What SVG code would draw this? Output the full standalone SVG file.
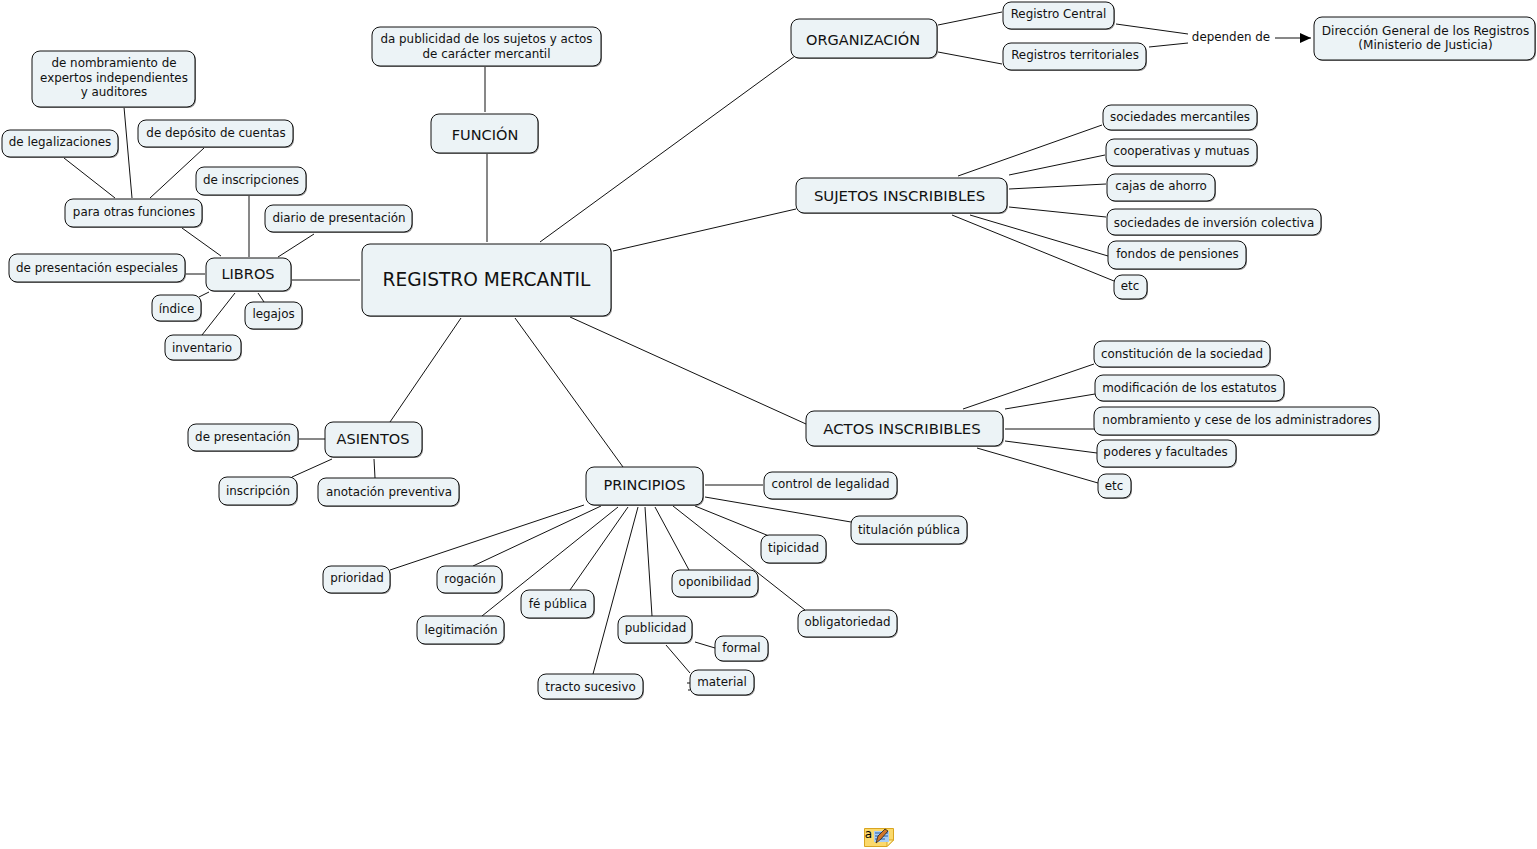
<svg xmlns="http://www.w3.org/2000/svg" width="1537" height="849" viewBox="0 0 1537 849">
<style>
text{font-family:"DejaVu Sans",Verdana,sans-serif;font-size:11.9px;fill:#111;text-anchor:middle}
.m text{font-size:14.5px}
.w text{font-size:14.9px}
.b text{font-size:12.1px}
.r{fill:#ecf3f6;stroke:#111;stroke-width:1;rx:8px}
.s{fill:#8a8a8a;rx:8px}
#links line{stroke:#111;stroke-width:1;fill:none}
</style>
<defs>
<marker id="arrow" markerWidth="12" markerHeight="10" refX="11" refY="5" orient="auto" markerUnits="userSpaceOnUse"><path d="M0 0L11 5L0 10z" fill="#000"/></marker>
</defs>
<rect width="1537" height="849" fill="#fff"/>
<g id="links">
<line x1="487" y1="153" x2="487" y2="242"/>
<line x1="485" y1="66" x2="485" y2="112"/>
<line x1="540" y1="242" x2="795" y2="56"/>
<line x1="938" y1="25" x2="1002" y2="12"/>
<line x1="938" y1="52" x2="1002" y2="64"/>
<line x1="1116" y1="24" x2="1188" y2="34"/>
<line x1="1149" y1="47" x2="1188" y2="43"/>
<line x1="1275" y1="38" x2="1311" y2="38" marker-end="url(#arrow)"/>
<line x1="613" y1="251" x2="796" y2="209"/>
<line x1="958" y1="176" x2="1102" y2="125"/>
<line x1="1009" y1="175" x2="1105" y2="155"/>
<line x1="1009" y1="189" x2="1106" y2="184"/>
<line x1="1009" y1="207" x2="1106" y2="217"/>
<line x1="970" y1="215" x2="1108" y2="256"/>
<line x1="952" y1="215" x2="1114" y2="281"/>
<line x1="570" y1="317" x2="806" y2="424"/>
<line x1="963" y1="409" x2="1094" y2="364"/>
<line x1="1005" y1="409" x2="1095" y2="394"/>
<line x1="1005" y1="429" x2="1094" y2="429"/>
<line x1="1005" y1="441" x2="1097" y2="453"/>
<line x1="977" y1="448" x2="1098" y2="483"/>
<line x1="515" y1="318" x2="623" y2="467"/>
<line x1="705" y1="485" x2="763" y2="485"/>
<line x1="705" y1="497" x2="851" y2="522"/>
<line x1="695" y1="506" x2="769" y2="536"/>
<line x1="655" y1="507" x2="689" y2="570"/>
<line x1="673" y1="506" x2="805" y2="610"/>
<line x1="645" y1="507" x2="652" y2="616"/>
<line x1="695" y1="642" x2="715" y2="648"/>
<line x1="666" y1="645" x2="690" y2="673"/>
<line x1="638" y1="507" x2="593" y2="674"/>
<line x1="628" y1="507" x2="570" y2="590"/>
<line x1="618" y1="507" x2="482" y2="616"/>
<line x1="601" y1="506" x2="473" y2="566"/>
<line x1="584" y1="505" x2="390" y2="570"/>
<line x1="461" y1="318" x2="390" y2="422"/>
<line x1="298" y1="439" x2="325" y2="439"/>
<line x1="332" y1="459" x2="292" y2="477"/>
<line x1="374" y1="459" x2="375" y2="478"/>
<line x1="292" y1="280" x2="360" y2="280"/>
<line x1="278" y1="257" x2="314" y2="234"/>
<line x1="249" y1="195" x2="249" y2="257"/>
<line x1="182" y1="228" x2="221" y2="256"/>
<line x1="150" y1="198" x2="204" y2="148"/>
<line x1="115" y1="198" x2="64" y2="158"/>
<line x1="132" y1="198" x2="124" y2="107"/>
<line x1="185" y1="274" x2="205" y2="274"/>
<line x1="199" y1="297" x2="209" y2="292"/>
<line x1="202" y1="335" x2="235" y2="293"/>
<line x1="258" y1="293" x2="264" y2="302"/>
<line x1="687" y1="683" x2="690" y2="683"/>
<line x1="688" y1="690" x2="690" y2="690"/>
</g>
<g id="n1" class="m"><rect class="s" x="363" y="245" width="249" height="72"/><rect class="r" x="362" y="244" width="249" height="72"/><text x="486.500" y="286" style="font-size:18.600px">REGISTRO MERCANTIL</text></g>
<g id="n2" class="m"><rect class="s" x="432" y="115" width="107" height="39"/><rect class="r" x="431" y="114" width="107" height="39"/><text x="485" y="140">FUNCIÓN</text></g>
<g id="n3"><rect class="s" x="373" y="28" width="229" height="39"/><rect class="r" x="372" y="27" width="229" height="39"/><text x="486.500" y="43">da publicidad de los sujetos y actos</text><text x="486.500" y="58">de carácter mercantil</text></g>
<g id="n4" class="m"><rect class="s" x="792" y="20" width="146" height="39"/><rect class="r" x="791" y="19" width="146" height="39"/><text x="863" y="45">ORGANIZACIÓN</text></g>
<g id="n5"><rect class="s" x="1004" y="3" width="111" height="27"/><rect class="r" x="1003" y="2" width="111" height="27"/><text x="1058.500" y="18">Registro Central</text></g>
<g id="n6"><rect class="s" x="1004" y="44" width="143" height="27"/><rect class="r" x="1003" y="43" width="143" height="27"/><text x="1075" y="59">Registros territoriales</text></g>
<g id="n7"><text x="1231" y="41">dependen de</text></g>
<g id="n8" class="b"><rect class="s" x="1315" y="18" width="221" height="43"/><rect class="r" x="1314" y="17" width="221" height="43"/><text x="1425.500" y="35">Dirección General de los Registros</text><text x="1425.500" y="49">(Ministerio de Justicia)</text></g>
<g id="n9" class="w"><rect class="s" x="797" y="179" width="211" height="35"/><rect class="r" x="796" y="178" width="211" height="35"/><text x="899.500" y="201">SUJETOS INSCRIBIBLES</text></g>
<g id="n10"><rect class="s" x="1104" y="106" width="154" height="25"/><rect class="r" x="1103" y="105" width="154" height="25"/><text x="1180" y="121">sociedades mercantiles</text></g>
<g id="n11"><rect class="s" x="1107" y="140" width="151" height="27"/><rect class="r" x="1106" y="139" width="151" height="27"/><text x="1181.500" y="155">cooperativas y mutuas</text></g>
<g id="n12"><rect class="s" x="1108" y="175" width="108" height="27"/><rect class="r" x="1107" y="174" width="108" height="27"/><text x="1161" y="190">cajas de ahorro</text></g>
<g id="n13"><rect class="s" x="1108" y="210" width="214" height="26"/><rect class="r" x="1107" y="209" width="214" height="26"/><text x="1214" y="227">sociedades de inversión colectiva</text></g>
<g id="n14"><rect class="s" x="1109" y="242" width="138" height="28"/><rect class="r" x="1108" y="241" width="138" height="28"/><text x="1177.500" y="258">fondos de pensiones</text></g>
<g id="n15"><rect class="s" x="1115" y="276" width="33" height="24"/><rect class="r" x="1114" y="275" width="33" height="24"/><text x="1130" y="290">etc</text></g>
<g id="n16" class="w"><rect class="s" x="807" y="412" width="197" height="35"/><rect class="r" x="806" y="411" width="197" height="35"/><text x="902" y="434">ACTOS INSCRIBIBLES</text></g>
<g id="n17"><rect class="s" x="1095" y="342" width="176" height="26"/><rect class="r" x="1094" y="341" width="176" height="26"/><text x="1182" y="358">constitución de la sociedad</text></g>
<g id="n18"><rect class="s" x="1096" y="376" width="189" height="26"/><rect class="r" x="1095" y="375" width="189" height="26"/><text x="1189.500" y="392">modificación de los estatutos</text></g>
<g id="n19"><rect class="s" x="1095" y="408" width="285" height="28"/><rect class="r" x="1094" y="407" width="285" height="28"/><text x="1237" y="424">nombramiento y cese de los administradores</text></g>
<g id="n20"><rect class="s" x="1098" y="441" width="139" height="27"/><rect class="r" x="1097" y="440" width="139" height="27"/><text x="1165.500" y="456">poderes y facultades</text></g>
<g id="n21"><rect class="s" x="1099" y="475" width="33" height="24"/><rect class="r" x="1098" y="474" width="33" height="24"/><text x="1114" y="490">etc</text></g>
<g id="n22" class="m"><rect class="s" x="587" y="468" width="117" height="38"/><rect class="r" x="586" y="467" width="117" height="38"/><text x="644.500" y="490">PRINCIPIOS</text></g>
<g id="n23"><rect class="s" x="765" y="473" width="133" height="27"/><rect class="r" x="764" y="472" width="133" height="27"/><text x="830.500" y="488">control de legalidad</text></g>
<g id="n24"><rect class="s" x="852" y="517" width="116" height="28"/><rect class="r" x="851" y="516" width="116" height="28"/><text x="909" y="534">titulación pública</text></g>
<g id="n25"><rect class="s" x="762" y="536" width="65" height="28"/><rect class="r" x="761" y="535" width="65" height="28"/><text x="793.500" y="552">tipicidad</text></g>
<g id="n26"><rect class="s" x="673" y="571" width="86" height="27"/><rect class="r" x="672" y="570" width="86" height="27"/><text x="715" y="586">oponibilidad</text></g>
<g id="n27"><rect class="s" x="799" y="611" width="99" height="27"/><rect class="r" x="798" y="610" width="99" height="27"/><text x="847.500" y="626">obligatoriedad</text></g>
<g id="n28"><rect class="s" x="619" y="617" width="74" height="27"/><rect class="r" x="618" y="616" width="74" height="27"/><text x="655.500" y="632">publicidad</text></g>
<g id="n29"><rect class="s" x="716" y="637" width="53" height="25"/><rect class="r" x="715" y="636" width="53" height="25"/><text x="741.500" y="652">formal</text></g>
<g id="n30"><rect class="s" x="691" y="671" width="64" height="25"/><rect class="r" x="690" y="670" width="64" height="25"/><text x="722" y="686">material</text></g>
<g id="n31"><rect class="s" x="539" y="675" width="105" height="25"/><rect class="r" x="538" y="674" width="105" height="25"/><text x="590.500" y="691">tracto sucesivo</text></g>
<g id="n32"><rect class="s" x="522" y="591" width="73" height="28"/><rect class="r" x="521" y="590" width="73" height="28"/><text x="558" y="608">fé pública</text></g>
<g id="n33"><rect class="s" x="418" y="617" width="87" height="28"/><rect class="r" x="417" y="616" width="87" height="28"/><text x="461" y="634">legitimación</text></g>
<g id="n34"><rect class="s" x="438" y="567" width="65" height="27"/><rect class="r" x="437" y="566" width="65" height="27"/><text x="470" y="583">rogación</text></g>
<g id="n35"><rect class="s" x="324" y="567" width="67" height="27"/><rect class="r" x="323" y="566" width="67" height="27"/><text x="357" y="582">prioridad</text></g>
<g id="n36" class="m"><rect class="s" x="326" y="423" width="97" height="35"/><rect class="r" x="325" y="422" width="97" height="35"/><text x="373" y="444">ASIENTOS</text></g>
<g id="n37"><rect class="s" x="189" y="425" width="110" height="27"/><rect class="r" x="188" y="424" width="110" height="27"/><text x="243" y="441">de presentación</text></g>
<g id="n38"><rect class="s" x="220" y="478" width="78" height="28"/><rect class="r" x="219" y="477" width="78" height="28"/><text x="258" y="495">inscripción</text></g>
<g id="n39"><rect class="s" x="319" y="479" width="141" height="28"/><rect class="r" x="318" y="478" width="141" height="28"/><text x="389" y="496">anotación preventiva</text></g>
<g id="n40" class="m"><rect class="s" x="207" y="259" width="85" height="33"/><rect class="r" x="206" y="258" width="85" height="33"/><text x="248" y="279">LIBROS</text></g>
<g id="n41"><rect class="s" x="266" y="206" width="147" height="27"/><rect class="r" x="265" y="205" width="147" height="27"/><text x="339" y="222">diario de presentación</text></g>
<g id="n42"><rect class="s" x="197" y="168" width="110" height="28"/><rect class="r" x="196" y="167" width="110" height="28"/><text x="251" y="184">de inscripciones</text></g>
<g id="n43"><rect class="s" x="66" y="200" width="137" height="28"/><rect class="r" x="65" y="199" width="137" height="28"/><text x="134" y="216">para otras funciones</text></g>
<g id="n44"><rect class="s" x="139" y="121" width="155" height="27"/><rect class="r" x="138" y="120" width="155" height="27"/><text x="216" y="137">de depósito de cuentas</text></g>
<g id="n45"><rect class="s" x="3" y="131" width="116" height="27"/><rect class="r" x="2" y="130" width="116" height="27"/><text x="60" y="146">de legalizaciones</text></g>
<g id="n46"><rect class="s" x="33" y="52" width="163" height="56"/><rect class="r" x="32" y="51" width="163" height="56"/><text x="114" y="67">de nombramiento de</text><text x="114" y="82">expertos independientes</text><text x="114" y="96">y auditores</text></g>
<g id="n47"><rect class="s" x="10" y="255" width="176" height="28"/><rect class="r" x="9" y="254" width="176" height="28"/><text x="97" y="272">de presentación especiales</text></g>
<g id="n48"><rect class="s" x="153" y="296" width="49" height="26"/><rect class="r" x="152" y="295" width="49" height="26"/><text x="176.500" y="313">índice</text></g>
<g id="n49"><rect class="s" x="246" y="303" width="57" height="27"/><rect class="r" x="245" y="302" width="57" height="27"/><text x="273.500" y="318">legajos</text></g>
<g id="n50"><rect class="s" x="166" y="336" width="76" height="25"/><rect class="r" x="165" y="335" width="76" height="25"/><text x="202" y="352">inventario</text></g>
<g id="note">
<path d="M864.500 828.500H893.500V840L887 846.500H864.500z" fill="#fbd96b" stroke="#d9a520"/>
<path d="M887 846.500V840H893.500z" fill="#fff3b0" stroke="#d9a520"/>
<rect x="874" y="831" width="15" height="11" fill="#a9cdf2"/>
<path d="M875 833h13M875 836h13M875 839h10" stroke="#2a5fa8" stroke-width="1"/>
<path d="M876 843L878 836L885 829L888 831L881 839z" fill="#d0762a" stroke="#222" stroke-width=".8"/>
<text x="868.500" y="838" style="font-size:12px;fill:#000">a</text>
</g>
</svg>
